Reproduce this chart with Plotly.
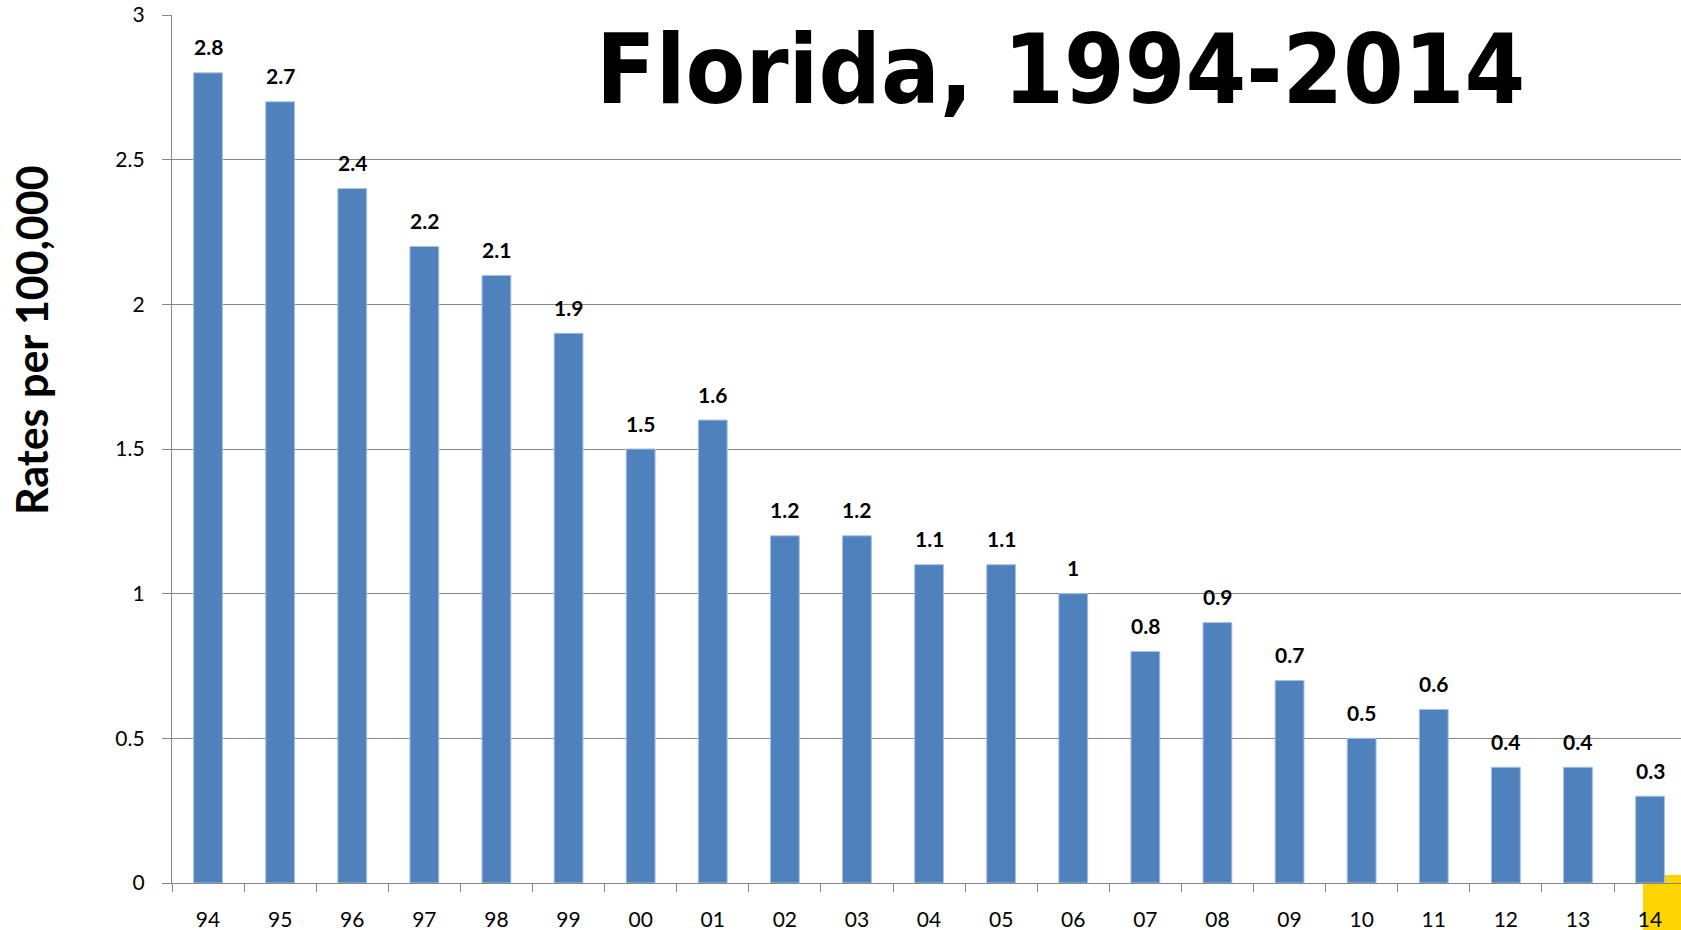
import plotly.graph_objects as go

years = ["94", "95", "96", "97", "98", "99", "00", "01", "02", "03", "04",
         "05", "06", "07", "08", "09", "10", "11", "12", "13", "14"]
rates = [2.8, 2.7, 2.4, 2.2, 2.1, 1.9, 1.5, 1.6, 1.2, 1.2, 1.1,
         1.1, 1.0, 0.8, 0.9, 0.7, 0.5, 0.6, 0.4, 0.4, 0.3]
title_text = "Florida, 1994-2014"
y_title = "Rates per 100,000"

W, H = 1681, 930
L, R, T = 172, 0, 15
AXIS_Y = 883                 # y of the zero line
B = H - AXIS_Y
plot_w = W - L - R
plot_h = H - T - B
CAT_W = 72.1

def px_x(x):   # page x -> paper x
    return (x - L) / plot_w

def px_y(y):   # page y -> paper y
    return (AXIS_Y - y) / plot_h

fig = go.Figure()
fig.add_trace(go.Bar(
    x=years, y=rates,
    marker=dict(color="#4F81BD", line=dict(color="#A9C1E0", width=1)),
    width=0.4,
    hoverinfo="x+y",
))

# data labels (x given as category index)
for i, v in enumerate(rates):
    fig.add_annotation(
        x=i, y=v, text=f"{v:g}", showarrow=False,
        yanchor="middle", xanchor="center", yshift=26,
        font=dict(family="Lato, Carlito, Liberation Sans, sans-serif", size=21,
                  color="black", weight="bold"),
    )

# title
fig.add_annotation(
    xref="paper", yref="paper",
    x=px_x(594), y=px_y(69),
    xanchor="left", yanchor="middle",
    text=title_text, showarrow=False,
    font=dict(family="DejaVu Sans Condensed, DejaVu Sans, sans-serif", size=97,
              color="black", weight="bold"),
)

# y axis title
fig.add_annotation(
    xref="paper", yref="paper",
    x=px_x(31), y=px_y(340),
    xanchor="center", yanchor="middle", textangle=-90,
    text=y_title, showarrow=False,
    font=dict(family="Lato, Carlito, Liberation Sans, sans-serif", size=43,
              color="black", weight="bold"),
)

# yellow decoration in the bottom-right corner
fig.add_shape(
    type="rect", xref="paper", yref="paper", layer="below",
    x0=px_x(1643), x1=px_x(1700),
    y0=px_y(940), y1=px_y(875),
    fillcolor="#FFD500", line=dict(width=0),
)

fig.update_layout(
    width=W, height=H,
    margin=dict(l=L, r=R, t=T, b=B, pad=0, autoexpand=False),
    paper_bgcolor="white", plot_bgcolor="rgba(0,0,0,0)",
    showlegend=False,
    font=dict(family="Lato, Carlito, Liberation Sans, sans-serif", size=21, color="black"),
    xaxis=dict(
        type="category", range=[-0.5, plot_w / CAT_W - 0.5],
        tickson="boundaries", ticks="outside", ticklen=8, tickwidth=1.3,
        tickcolor="#868686", showline=True, linecolor="#868686", linewidth=1.3,
        showgrid=False, tickfont=dict(size=21), ticklabelstandoff=18,
        ticklabeloverflow="allow", automargin=False,
    ),
    yaxis=dict(
        range=[0, 3], dtick=0.5, tick0=0,
        ticks="outside", ticklen=9, tickwidth=1.3, tickcolor="#868686",
        showline=True, linecolor="#868686", linewidth=1.3,
        showgrid=True, gridcolor="#868686", gridwidth=1.3,
        zeroline=False, tickfont=dict(size=21), ticklabelstandoff=13,
        ticklabeloverflow="allow", automargin=False,
    ),
)

fig.write_html(
    "out.html",
    config={"displayModeBar": False},
    post_script="document.body.style.margin='0px';document.body.style.overflow='hidden';",
)
